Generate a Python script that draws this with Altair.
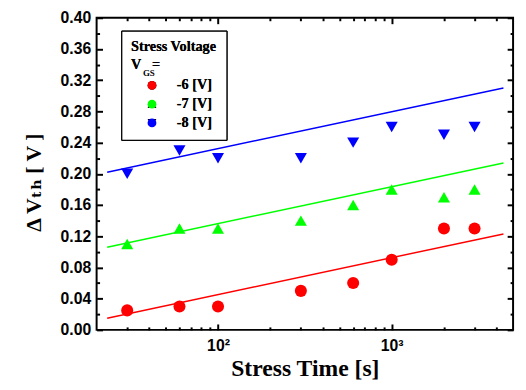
import altair as alt
import pandas as pd

# ---- data ----
stress_time = [30, 60, 100, 300, 600, 1000, 2000, 3000]
dvth_m6 = [0.025, 0.03, 0.03, 0.05, 0.06, 0.09, 0.13, 0.13]
dvth_m7 = [0.11, 0.13, 0.13, 0.14, 0.16, 0.18, 0.17, 0.18]
dvth_m8 = [0.20, 0.23, 0.22, 0.22, 0.24, 0.26, 0.25, 0.26]

series_labels = ["-6 [V]", "-7 [V]", "-8 [V]"]
series_colors = ["#ff0000", "#00ff00", "#0000ff"]
series_shapes = ["circle", "triangle-up", "triangle-down"]

# fitted lines (end points)
fit_time = [23, 4400]
fit_m6 = [0.015, 0.123]
fit_m7 = [0.106, 0.214]
fit_m8 = [0.202, 0.310]

# axes
x_domain = [20, 5000]
y_domain = [0.0, 0.40]
x_major = [100, 1000]
x_major_labels = ["10\u00b2", "10\u00b3"]
x_minor = [30, 40, 50, 60, 70, 80, 90, 200, 300, 400, 500, 600, 700, 800, 900, 2000, 3000, 4000]
y_major = [0.00, 0.04, 0.08, 0.12, 0.16, 0.20, 0.24, 0.28, 0.32, 0.36, 0.40]
y_minor = [0.02, 0.06, 0.10, 0.14, 0.18, 0.22, 0.26, 0.30, 0.34, 0.38]

# ---- tables ----
pts = pd.DataFrame({
    "t": stress_time * 3,
    "dv": dvth_m6 + dvth_m7 + dvth_m8,
    "series": [series_labels[0]] * 8 + [series_labels[1]] * 8 + [series_labels[2]] * 8,
})
fits = pd.DataFrame({
    "t": fit_time * 3,
    "dv": fit_m6 + fit_m7 + fit_m8,
    "series": [series_labels[0]] * 2 + [series_labels[1]] * 2 + [series_labels[2]] * 2,
})

SANS = "Liberation Sans, Arial, sans-serif"
SERIF = "Liberation Serif, Times New Roman, DejaVu Serif, serif"

xscale = alt.Scale(type="log", domain=x_domain, nice=False)
yscale = alt.Scale(domain=y_domain, nice=False, zero=False)

label_expr = " : ".join(
    [f"datum.value == {v} ? '{l}'" for v, l in zip(x_major, x_major_labels)]
) + " : ''"


def tick_axis(orient, values, size, labels=False, **kw):
    return alt.Axis(
        orient=orient, values=values, tickSize=size, offset=-size,
        domain=False, grid=False, labels=labels, tickWidth=2,
        tickColor="black", **kw)


legend = alt.Legend(
    title=["Stress Voltage\u2002", "V\u2002\u2005="],
    orient="none", legendX=25, legendY=13,
    strokeColor="black", padding=10,
    titleFont=SERIF, titleFontSize=14.5, titleFontWeight="bold",
    titleLineHeight=18, titlePadding=6,
    labelFont=SERIF, labelFontSize=14.5, labelFontWeight="bold",
    symbolSize=80, symbolOffset=14, labelOffset=18, rowPadding=4,
    symbolStrokeWidth=0,
)

points = alt.Chart(pts).mark_point(filled=True, size=150, opacity=1).encode(
    x=alt.X("t:Q", scale=xscale, axis=tick_axis(
        "bottom", x_major, 6, labels=True, labelExpr=label_expr,
        labelFont=SANS, labelFontSize=16, labelFontWeight="bold",
        labelPadding=8, labelColor="black",
        title="Stress Time [s]", titleFont=SERIF, titleFontSize=24,
        titleFontWeight="bold", titlePadding=3, titleColor="black")),
    y=alt.Y("dv:Q", scale=yscale, axis=tick_axis(
        "left", y_major, 6, labels=True, format=".2f",
        labelFont=SANS, labelFontSize=16, labelFontWeight="bold",
        labelPadding=6, labelColor="black",
        title="\u0394 V\u209c\u2095 [ V ]", titleFont=SERIF, titleFontSize=22,
        titleFontWeight="bold", titlePadding=15, titleY=167, titleColor="black")),
    color=alt.Color("series:N", scale=alt.Scale(domain=series_labels, range=series_colors), legend=legend),
    shape=alt.Shape("series:N", scale=alt.Scale(domain=series_labels, range=series_shapes), legend=legend),
)

lines = alt.Chart(fits).mark_line(strokeWidth=1.5).encode(
    x=alt.X("t:Q", scale=xscale, axis=tick_axis("bottom", x_minor, 3, title=None)),
    y=alt.Y("dv:Q", scale=yscale, axis=tick_axis("left", y_minor, 3, title=None)),
    color=alt.Color("series:N", scale=alt.Scale(domain=series_labels, range=series_colors), legend=None),
    detail="series:N",
)

mirror_major = alt.Chart(pts).mark_point(opacity=0).encode(
    x=alt.X("t:Q", scale=xscale, axis=tick_axis("top", x_major, 6, title=None)),
    y=alt.Y("dv:Q", scale=yscale, axis=tick_axis("right", y_major, 6, title=None)),
)
mirror_minor = alt.Chart(pts).mark_point(opacity=0).encode(
    x=alt.X("t:Q", scale=xscale, axis=tick_axis("top", x_minor, 3, title=None)),
    y=alt.Y("dv:Q", scale=yscale, axis=tick_axis("right", y_minor, 3, title=None)),
)

gs_sub = alt.Chart(alt.Data(values=[{}])).mark_text(
    text="GS", font=SERIF, fontSize=9, fontWeight="bold", align="left",
    baseline="middle", color="black",
).encode(x=alt.value(47), y=alt.value(56))

chart = alt.layer(lines, points, mirror_major, mirror_minor, gs_sub).resolve_scale(
    color="independent"
).resolve_axis(
    x="independent", y="independent"
).properties(
    width=423, height=317,
    autosize=alt.AutoSizeParams(type="none"),
    padding={"left": 90, "top": 7, "right": 5, "bottom": 50},
).configure_view(
    stroke="black", strokeWidth=2
).configure_axis(grid=False)

chart.save("out.html", embed_options={"renderer": "svg", "actions": False})
